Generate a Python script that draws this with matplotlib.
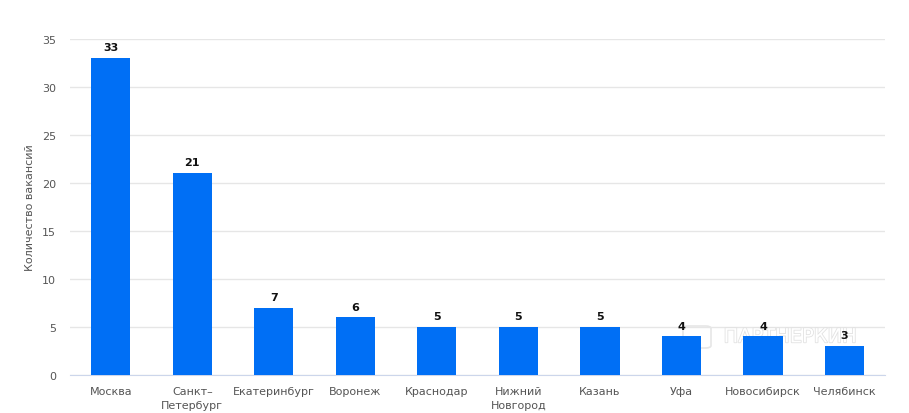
import matplotlib.pyplot as plt
import matplotlib.patheffects as pe
from matplotlib.patches import FancyBboxPatch

cities = ['Москва', 'Санкт–\nПетербург', 'Екатеринбург', 'Воронеж', 'Краснодар',
          'Нижний\nНовгород', 'Казань', 'Уфа', 'Новосибирск', 'Челябинск']
vacancies = [33, 21, 7, 6, 5, 5, 5, 4, 4, 3]
y_ticks = [0, 5, 10, 15, 20, 25, 30, 35]

plt.rcParams['font.family'] = ['DejaVu Sans']

fig = plt.figure(figsize=(9.09, 4.14), dpi=100)
ax = fig.add_axes([0.077, 0.092, 0.897, 0.812])

x = range(len(cities))
bars = ax.bar(x, vacancies, width=0.48, color='#006ff5', zorder=3)
for b, v in zip(bars, vacancies):
    ax.text(b.get_x() + b.get_width() / 2, v + 0.6, str(v), ha='center', va='bottom',
            fontsize=8, fontweight='bold', color='#111111', zorder=4)

ax.set_xlim(-0.5, len(cities) - 0.5)
ax.set_ylim(0, 35)
ax.set_yticks(y_ticks)
ax.set_xticks(list(x))
ax.set_xticklabels(cities, fontsize=8, color='#555555', linespacing=1.5)
ax.tick_params(axis='y', labelsize=8, labelcolor='#555555', length=0, pad=10)
ax.tick_params(axis='x', length=0, pad=8)
ax.grid(axis='y', color='#e6e6e6', linewidth=1, zorder=0)
for side in ['top', 'right', 'left']:
    ax.spines[side].set_visible(False)
ax.spines['bottom'].set_color('#ccd6eb')
ax.set_ylabel('Количество вакансий', fontsize=8, color='#555555', labelpad=5)

# outlined watermark behind the bars, like in the source image
ax.text(0.869, 0.184, 'ПАРТНЕРКИН', transform=fig.transFigure, fontsize=14,
        color='white', ha='center', va='center', zorder=2,
        path_effects=[pe.withStroke(linewidth=1.2, foreground='#e2e2e2')])
icon = FancyBboxPatch((683 / 909, 1 - 349 / 414), 28 / 909, 22 / 414,
                      boxstyle='round,pad=0,rounding_size=0.006', transform=fig.transFigure,
                      facecolor='none', edgecolor='#e6e6e6', linewidth=1.2, zorder=2)
ax.add_patch(icon)

fig.savefig('out.png', dpi=100)
